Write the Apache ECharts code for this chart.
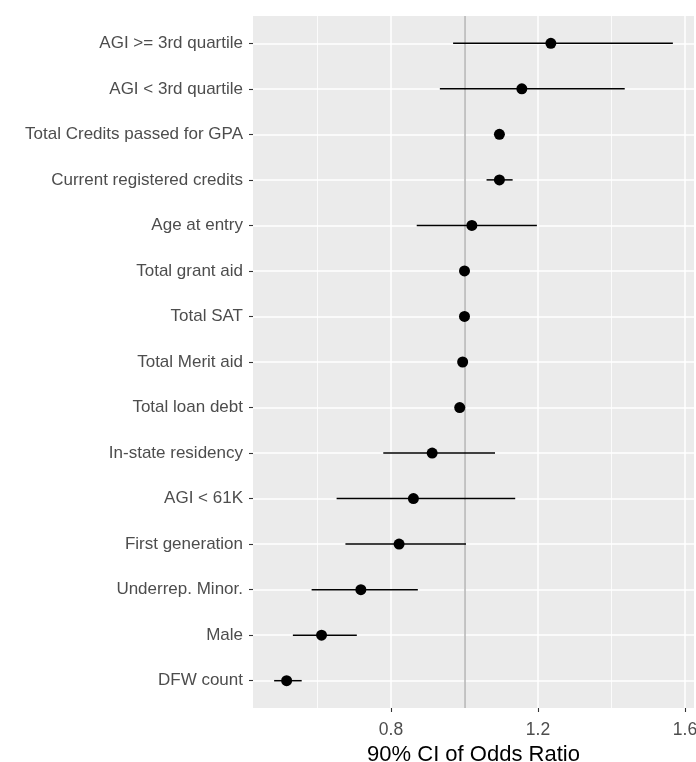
<!DOCTYPE html>
<html lang="en">
<head>
    <meta charset="UTF-8">
    <title>Odds ratio plot</title>
    <script src="https://cdn.jsdelivr.net/npm/echarts@6.0.0/dist/echarts.min.js"></script>
    <style>
        html, body { margin: 0; padding: 0; background: #fff; }
    </style>
</head>
<body>

<div id="main" style="width: 696px;height:762px;"></div>
<script type="text/javascript">

    // rows, top to bottom
    let categories = ['AGI >= 3rd quartile', 'AGI < 3rd quartile', 'Total Credits passed for GPA',
        'Current registered credits', 'Age at entry', 'Total grant aid', 'Total SAT', 'Total Merit aid',
        'Total loan debt', 'In-state residency', 'AGI < 61K', 'First generation', 'Underrep. Minor.',
        'Male', 'DFW count'];
    let estimate = [1.235, 1.156, 1.095, 1.095, 1.020, 1.000, 1.000, 0.995, 0.987, 0.912, 0.861, 0.822, 0.718, 0.611, 0.516];
    let lower    = [0.969, 0.933, 1.091, 1.060, 0.870, 0.998, 0.998, 0.993, 0.985, 0.779, 0.652, 0.676, 0.584, 0.533, 0.482];
    let upper    = [1.567, 1.436, 1.099, 1.131, 1.197, 1.002, 1.002, 0.997, 0.989, 1.083, 1.138, 1.004, 0.873, 0.707, 0.557];

    let majorTicks = [0.8, 1.2, 1.6];
    let minorTicks = [0.6, 1.0, 1.4];
    let refValue = 1;

    let fontFam = 'Liberation Sans, Arial, sans-serif';
    let xMin = 0.4245, xMax = 1.6245;

    // vertical grid lines
    let vLines = minorTicks.map(v => ({xAxis: v, lineStyle: {color: '#fff', width: 0.8, type: 'solid'}}))
        .concat(majorTicks.map(v => ({xAxis: v, lineStyle: {color: '#fff', width: 1.5, type: 'solid'}})));

    option = {
        backgroundColor: '#fff',
        textStyle: {fontFamily: fontFam},
        animation: false,
        grid: [
            {left: 253, right: 2, top: 16, bottom: 54, outerBoundsMode: 'none', containLabel: false,
                show: true, backgroundColor: '#EBEBEB', borderWidth: 0},
            {left: 253, right: 2, top: 43.3, bottom: 81.3, outerBoundsMode: 'none', containLabel: false}
        ],
        xAxis: [{
            gridIndex: 0,
            type: 'value',
            min: xMin,
            max: xMax,
            axisLine: {show: false},
            axisTick: {show: true, length: 4, customValues: majorTicks, lineStyle: {color: '#333', width: 1.1}},
            axisLabel: {customValues: majorTicks, color: '#4D4D4D', fontSize: 17.5, margin: 13, fontFamily: fontFam},
            splitLine: {show: false},
            name: '90% CI of Odds Ratio',
            nameLocation: 'middle',
            nameGap: 32,
            nameTextStyle: {color: '#000', fontSize: 22, fontFamily: fontFam}
        }, {
            gridIndex: 1,
            type: 'value',
            min: xMin,
            max: xMax,
            show: false
        }],
        yAxis: [{
            gridIndex: 0,
            type: 'value',
            min: 0,
            max: 1,
            show: false
        }, {
            gridIndex: 1,
            type: 'category',
            data: categories,
            inverse: true,
            boundaryGap: false,
            axisLine: {show: false},
            axisTick: {show: true, length: 4, lineStyle: {color: '#333', width: 1.1}},
            axisLabel: {color: '#4D4D4D', fontSize: 17, margin: 10, fontFamily: fontFam},
            splitLine: {show: true, lineStyle: {color: '#fff', width: 1.5}}
        }],
        series: [{
            name: 'grid',
            type: 'scatter',
            xAxisIndex: 0,
            yAxisIndex: 0,
            data: [],
            silent: true,
            z: 1,
            markLine: {
                silent: true,
                symbol: 'none',
                label: {show: false},
                data: vLines
            }
        }, {
            name: 'ref',
            type: 'scatter',
            xAxisIndex: 0,
            yAxisIndex: 0,
            data: [],
            silent: true,
            z: 1,
            markLine: {
                silent: true,
                symbol: 'none',
                label: {show: false},
                data: [{xAxis: refValue, lineStyle: {color: '#B3B3B3', width: 1.5, type: 'solid'}}]
            }
        }, {
            name: 'CI',
            type: 'custom',
            xAxisIndex: 1,
            yAxisIndex: 1,
            z: 5,
            data: categories.map((c, i) => [i, lower[i], upper[i]]),
            encode: {x: [1, 2], y: 0},
            renderItem: function (params, api) {
                let i = api.value(0);
                let p1 = api.coord([api.value(1), i]);
                let p2 = api.coord([api.value(2), i]);
                return {
                    type: 'line',
                    shape: {x1: p1[0], y1: p1[1], x2: p2[0], y2: p2[1]},
                    style: {stroke: '#000', lineWidth: 1.5}
                };
            }
        }, {
            name: 'OR',
            type: 'scatter',
            xAxisIndex: 1,
            yAxisIndex: 1,
            z: 6,
            symbolSize: 11,
            itemStyle: {color: '#000', opacity: 1},
            data: estimate.map((v, i) => [v, i])
        }]
    };

    let myChart = echarts.init(document.getElementById('main'));
    myChart.setOption(option)
</script>
</body>
</html>
